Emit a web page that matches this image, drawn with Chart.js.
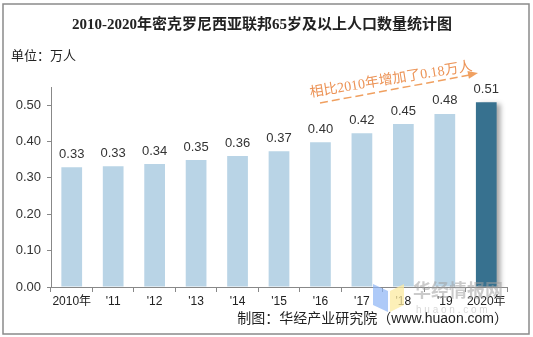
<!DOCTYPE html>
<html>
<head>
<meta charset="utf-8">
<script src="https://cdn.jsdelivr.net/npm/chart.js@4.4.0/dist/chart.umd.min.js"></script>
<style>
    body { margin: 0; background: #ffffff; }
    canvas { display: block; }
</style>
</head>
<body>
<canvas id="graph" width="533" height="337"></canvas>
<script>
const years = ["2010年", "'11", "'12", "'13", "'14", "'15", "'16", "'17", "'18", "'19", "2020年"]
const values = [0.329, 0.332, 0.338, 0.349, 0.36, 0.373, 0.398, 0.423, 0.448, 0.476, 0.508]
const yTicks = [0, 0.1, 0.2, 0.3, 0.4, 0.5]
const highlightIndex = 10

const titleText = "2010-2020年密克罗尼西亚联邦65岁及以上人口数量统计图"
const unitText = "单位：万人"
const sourceText = "制图：华经产业研究院（www.huaon.com）"
const noteText = "相比2010年增加了0.18万人"

const numFont = "'Liberation Sans', Arial, sans-serif"
const cjkFont = "'Liberation Sans', 'Noto Sans CJK SC', sans-serif"

const lightBars = values.map((v, i) => (i === highlightIndex ? null : v))
const darkBars = values.map((v, i) => (i === highlightIndex ? v : null))

const shadowPlugin = {
    id: "shadow",
    beforeDatasetDraw: (chart, args) => {
        if (args.index !== 1) return
        const ctx = chart.ctx
        ctx.save()
        ctx.shadowColor = "rgba(0,0,0,0.35)"
        ctx.shadowBlur = 5
        ctx.shadowOffsetX = 4
        ctx.shadowOffsetY = 2
    },
    afterDatasetDraw: (chart, args) => {
        if (args.index !== 1) return
        chart.ctx.restore()
    },
}

const decorPlugin = {
    id: "decor",
    afterDraw: (chart) => {
        const ctx = chart.ctx
        ctx.save()

        // value labels
        ctx.fillStyle = "#333333"
        ctx.font = "13px " + numFont
        ctx.textAlign = "center"
        ctx.textBaseline = "middle"
        chart.data.datasets.forEach((ds, di) => {
            const meta = chart.getDatasetMeta(di)
            meta.data.forEach((el, i) => {
                if (ds.data[i] === null) return
                ctx.fillText(ds.data[i].toFixed(2), el.x, el.y - 13)
            })
        })

        // title + unit + source
        ctx.fillStyle = "#222222"
        ctx.font = "bold 15px 'Liberation Serif', 'Noto Sans CJK SC', serif"
        ctx.fillText(titleText, 262, 25)

        ctx.textAlign = "left"
        ctx.font = "13px 'Noto Sans CJK SC', sans-serif"
        ctx.fillText(unitText, 11, 55)

        ctx.textAlign = "right"
        ctx.font = "14px " + cjkFont
        ctx.fillText(sourceText, 508, 319)

        // annotation
        ctx.save()
        ctx.translate(391, 80)
        ctx.rotate(-9.3 * Math.PI / 180)
        ctx.fillStyle = "#ec9356"
        ctx.textAlign = "center"
        ctx.font = "14px 'Liberation Serif', 'Noto Sans CJK SC', serif"
        ctx.fillText(noteText, 0, 0)
        ctx.restore()

        ctx.strokeStyle = "#f0a060"
        ctx.fillStyle = "#f0a060"
        ctx.lineWidth = 1.5
        ctx.setLineDash([8, 4])
        ctx.beginPath()
        ctx.moveTo(320, 103)
        ctx.lineTo(470, 75)
        ctx.stroke()
        ctx.setLineDash([])
        const ang = Math.atan2(73 - 103, 478 - 320)
        ctx.beginPath()
        ctx.moveTo(478, 73)
        ctx.lineTo(478 - 10 * Math.cos(ang) + 4 * Math.sin(ang), 73 - 10 * Math.sin(ang) - 4 * Math.cos(ang))
        ctx.lineTo(478 - 10 * Math.cos(ang) - 4 * Math.sin(ang), 73 - 10 * Math.sin(ang) + 4 * Math.cos(ang))
        ctx.closePath()
        ctx.fill()

        // watermark
        ctx.fillStyle = "rgba(140,180,245,0.7)"
        ctx.beginPath()
        ctx.moveTo(373, 284)
        ctx.lineTo(388, 291)
        ctx.lineTo(388, 312)
        ctx.lineTo(373, 305)
        ctx.closePath()
        ctx.fill()
        ctx.fillStyle = "rgba(252,235,160,0.75)"
        ctx.beginPath()
        ctx.moveTo(390, 291)
        ctx.lineTo(404, 284)
        ctx.lineTo(404, 305)
        ctx.lineTo(390, 312)
        ctx.closePath()
        ctx.fill()
        ctx.fillStyle = "rgba(160,160,160,0.55)"
        ctx.textAlign = "left"
        ctx.font = "bold 18px 'Noto Sans CJK SC', sans-serif"
        ctx.fillText("华经情报网", 413, 290)
        ctx.fillStyle = "rgba(180,180,180,0.5)"
        ctx.font = "10px " + numFont
        ctx.fillText("h u a o n . c o m", 416, 310)

        // frame
        ctx.strokeStyle = "#8a8a8a"
        ctx.lineWidth = 1.5
        ctx.strokeRect(3, 4, 526, 330)
        ctx.restore()
    },
}

const config = {
    type: "bar",
    data: {
        labels: [...years],
        datasets: [
            {
                data: lightBars,
                backgroundColor: "#b9d4e6",
                barPercentage: 0.5,
                categoryPercentage: 1,
            },
            {
                data: darkBars,
                backgroundColor: "#37718f",
                barPercentage: 0.5,
                categoryPercentage: 1,
            },
        ],
    },
    options: {
        responsive: false,
        animation: false,
        devicePixelRatio: 1,
        layout: {
            padding: { top: 87, right: 26, bottom: 0, left: 0 },
        },
        plugins: {
            legend: { display: false },
            title: { display: false },
            tooltip: { enabled: false },
        },
        scales: {
            x: {
                stacked: true,
                afterFit: (scale) => {
                    scale.height = 50
                },
                border: { display: true, color: "#888888" },
                grid: {
                    display: true,
                    drawOnChartArea: false,
                    drawTicks: true,
                    tickLength: 5,
                    color: "#888888",
                },
                ticks: {
                    color: "#222222",
                    font: { size: 12, family: cjkFont },
                    padding: 2,
                    maxRotation: 0,
                    autoSkip: false,
                },
            },
            y: {
                stacked: true,
                min: 0,
                max: 0.55,
                afterFit: (scale) => {
                    scale.width = 51
                },
                afterBuildTicks: (scale) => {
                    scale.ticks = yTicks.map((value) => ({ value }))
                },
                border: { display: true, color: "#888888" },
                grid: {
                    display: true,
                    drawOnChartArea: false,
                    drawTicks: true,
                    tickLength: 4,
                    color: "#888888",
                },
                ticks: {
                    color: "#333333",
                    font: { size: 13, family: numFont },
                    padding: 6,
                    callback: (value) => value.toFixed(2),
                },
            },
        },
    },
    plugins: [shadowPlugin, decorPlugin],
}

const chart = new Chart(document.getElementById("graph"), config)
</script>
</body>
</html>
